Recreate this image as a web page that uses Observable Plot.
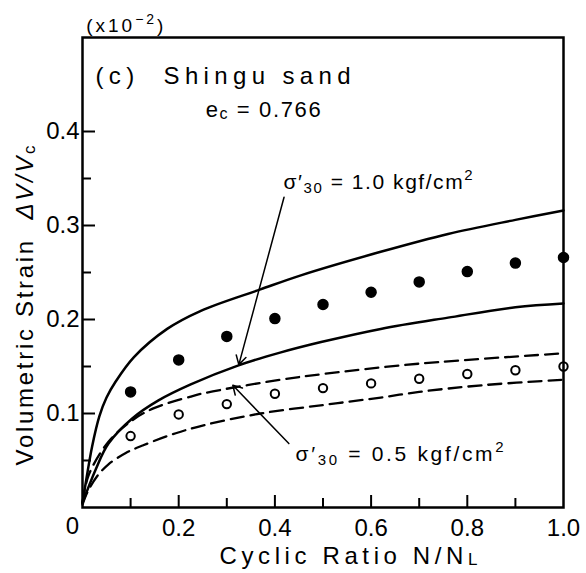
<!DOCTYPE html>
<html><head><meta charset="utf-8">
<script src="https://cdn.jsdelivr.net/npm/d3@7"></script>
<script src="https://cdn.jsdelivr.net/npm/@observablehq/plot@0.6"></script>
<style>html,body{margin:0;padding:0;background:#fff} svg{display:block}</style>
</head><body><div id="chart"></div>
<script>
// ---- data ----
const cyclicRatio = [0.1, 0.2, 0.3, 0.4, 0.5, 0.6, 0.7, 0.8, 0.9, 1.0];
const strainSigma10 = [0.123, 0.157, 0.182, 0.201, 0.216, 0.229, 0.240, 0.251, 0.260, 0.266]; // filled dots
const strainSigma05 = [0.076, 0.099, 0.110, 0.121, 0.127, 0.132, 0.137, 0.142, 0.146, 0.150]; // open circles

const upperSolidX = [0, 0.006, 0.02, 0.035, 0.05, 0.069, 0.107, 0.176, 0.245, 0.37, 0.454, 0.62, 0.76, 0.9, 1.0];
const upperSolidY = [0.005, 0.024, 0.065, 0.097, 0.117, 0.134, 0.160, 0.190, 0.209, 0.232, 0.247, 0.272, 0.291, 0.306, 0.316];
const lowerSolidX = [0, 0.027, 0.054, 0.104, 0.158, 0.225, 0.323, 0.4125, 0.496, 0.62, 0.76, 0.9, 1.0];
const lowerSolidY = [0.005, 0.040, 0.068, 0.095, 0.114, 0.131, 0.151, 0.165, 0.176, 0.190, 0.202, 0.213, 0.217];
const upperDashX = [0, 0.0125, 0.054, 0.104, 0.15, 0.225, 0.256, 0.4125, 0.5, 0.7, 1.0];
const upperDashY = [0.005, 0.034, 0.070, 0.093, 0.106, 0.118, 0.122, 0.136, 0.142, 0.153, 0.164];
const lowerDashX = [0, 0.01, 0.03, 0.054, 0.09, 0.125, 0.194, 0.256, 0.37, 0.5, 0.62, 0.7, 0.83, 1.0];
const lowerDashY = [0.003, 0.016, 0.033, 0.046, 0.058, 0.066, 0.079, 0.088, 0.100, 0.109, 0.117, 0.123, 0.130, 0.136];

const xTickLabels = [0.2, 0.4, 0.6, 0.8, 1.0];
const yTickLabels = [0.1, 0.2, 0.3, 0.4];
const xMajorTicks = [0.2, 0.4, 0.6, 0.8];
const xMinorTicks = [0.1, 0.3, 0.5, 0.7, 0.9];
const yMajorTicks = [0.1, 0.2, 0.3, 0.4];
const yMinorTicks = [0.05, 0.15, 0.25, 0.35];

const noteTexts = ["(x10−2)", "(c)  Shingu sand", "ec = 0.766", "σ′30 = 1.0 kgf/cm2", "σ′30 = 0.5 kgf/cm2", "Volumetric Strain  ΔV/Vc", "Cyclic Ratio N/NL"];
const arrowFrom = [[0.419, 0.330], [0.429, 0.068]];
const arrowTo = [[0.325, 0.152], [0.3125, 0.130]];

// ---- build tables ----
const pts = (xs, ys) => xs.map((x, i) => ({x, y: ys[i]}));
const dots10 = pts(cyclicRatio, strainSigma10);
const dots05 = pts(cyclicRatio, strainSigma05);
const arrows = arrowFrom.map((f, i) => ({x1: f[0], y1: f[1], x2: arrowTo[i][0], y2: arrowTo[i][1]}));

// layout of annotations (pixel-measured, expressed in data space)
const noteLayout = [
  {x: 0.008, y: 0.506, size: 19, anchor: "start", len: 77, rotate: 0,
   segs: [["(x10", "n"], ["−2", "sup"], [")", "n"]]},
  {x: 0.027, y: 0.451, size: 24, anchor: "start", len: 255, rotate: 0,
   segs: [["(c)  Shingu sand", "n"]]},
  {x: 0.256, y: 0.415, size: 22, anchor: "start", len: 115, rotate: 0,
   segs: [["e", "n"], ["c", "low"], [" = 0.766", "n"]]},
  {x: 0.418, y: 0.339, size: 21, anchor: "start", len: 189, rotate: 0,
   segs: [["σ′", "n"], ["30", "sub"], [" = 1.0 kgf/cm", "n"], ["2", "sup"]]},
  {x: 0.443, y: 0.050, size: 21, anchor: "start", len: 208, rotate: 0,
   segs: [["σ′", "n"], ["30", "sub"], [" = 0.5 kgf/cm", "n"], ["2", "sup"]]},
  {x: -0.102, y: 0.215, size: 24, anchor: "middle", len: 320, rotate: -90,
   segs: [["Volumetric Strain  ", "n"], ["ΔV/V", "it"], ["c", "low"]]},
  {x: 0.553, y: -0.0596, size: 24, anchor: "middle", len: 258, rotate: 0,
   segs: [["Cyclic Ratio N/N", "n"], ["L", "low"]]}
];

const frameH = 573 - 37 - 66, frameW = 586 - 82 - 23;
const font = "Liberation Sans, Arial, sans-serif";

const noteMarks = noteLayout.map((n, i) => Plot.text([noteTexts[i]], {
  x: () => n.x, y: () => n.y, text: d => d, textAnchor: n.anchor, lineAnchor: "bottom",
  rotate: n.rotate, fontSize: n.size, fill: "black"
}));

const svg = Plot.plot({
  width: 586, height: 573,
  marginLeft: 82, marginRight: 23, marginTop: 37, marginBottom: 66,
  x: {domain: [0, 1]},
  y: {domain: [0, 0.5]},
  style: {fontFamily: font, fontSize: "24px", color: "#000", background: "#fff", overflow: "visible"},
  marks: [
    Plot.axisX(xTickLabels, {tickSize: 0, tickPadding: 11, tickFormat: d => d.toFixed(1), fontSize: 24, label: null}),
    Plot.axisX([0], {tickSize: 0, tickPadding: 9, tickFormat: () => "0", fontSize: 24, dx: -10, label: null}),
    Plot.axisY(yTickLabels, {tickSize: 0, tickPadding: 3, tickFormat: d => d.toFixed(1), fontSize: 24, label: null}),
    Plot.tickX(xMajorTicks, {x: d => d, insetTop: frameH - 12, strokeWidth: 2}),
    Plot.tickX(xMinorTicks, {x: d => d, insetTop: frameH - 9, strokeWidth: 2}),
    Plot.tickY(yMajorTicks, {y: d => d, insetRight: frameW - 13, strokeWidth: 2}),
    Plot.tickY(yMinorTicks, {y: d => d, insetRight: frameW - 9, strokeWidth: 2}),
    Plot.line(pts(upperSolidX, upperSolidY), {x: "x", y: "y", curve: "catmull-rom", strokeWidth: 2.5}),
    Plot.line(pts(lowerSolidX, lowerSolidY), {x: "x", y: "y", curve: "catmull-rom", strokeWidth: 2.5}),
    Plot.line(pts(upperDashX, upperDashY), {x: "x", y: "y", curve: "catmull-rom", strokeWidth: 2.3, strokeDasharray: "13,7"}),
    Plot.line(pts(lowerDashX, lowerDashY), {x: "x", y: "y", curve: "catmull-rom", strokeWidth: 2.3, strokeDasharray: "13,7"}),
    Plot.dot(dots10, {x: "x", y: "y", r: 5, fill: "black", stroke: "black"}),
    Plot.dot(dots05, {x: "x", y: "y", r: 4.2, fill: "white", stroke: "black", strokeWidth: 2}),
    Plot.arrow(arrows, {x1: "x1", y1: "y1", x2: "x2", y2: "y2", headLength: 10, strokeWidth: 1.5}),
    Plot.frame({strokeWidth: 2.5}),
    ...noteMarks
  ]
});

// rich text: subscripts / superscripts, stretched to the reference widths
const groups = Array.from(svg.children).filter(el => el.tagName.toLowerCase() === "g");
const noteGroups = groups.slice(groups.length - noteLayout.length);
noteLayout.forEach((n, i) => {
  const t = d3.select(noteGroups[i]).select("text");
  if (t.empty()) return;
  t.text("");
  let shift = 0;
  for (const [s, k] of n.segs) {
    const target = k === "sub" ? 0.22 * n.size : k === "sup" ? -0.42 * n.size : k === "low" ? 0.06 * n.size : 0;
    const ts = t.append("tspan").text(s).attr("dy", target - shift);
    shift = target;
    if (k === "sub" || k === "sup" || k === "low") ts.attr("font-size", Math.round(n.size * 0.72));
    if (k === "it") ts.attr("font-style", "italic");
  }
  t.attr("textLength", n.len).attr("lengthAdjust", "spacing");
});

document.getElementById("chart").appendChild(svg);
</script>
</body></html>
